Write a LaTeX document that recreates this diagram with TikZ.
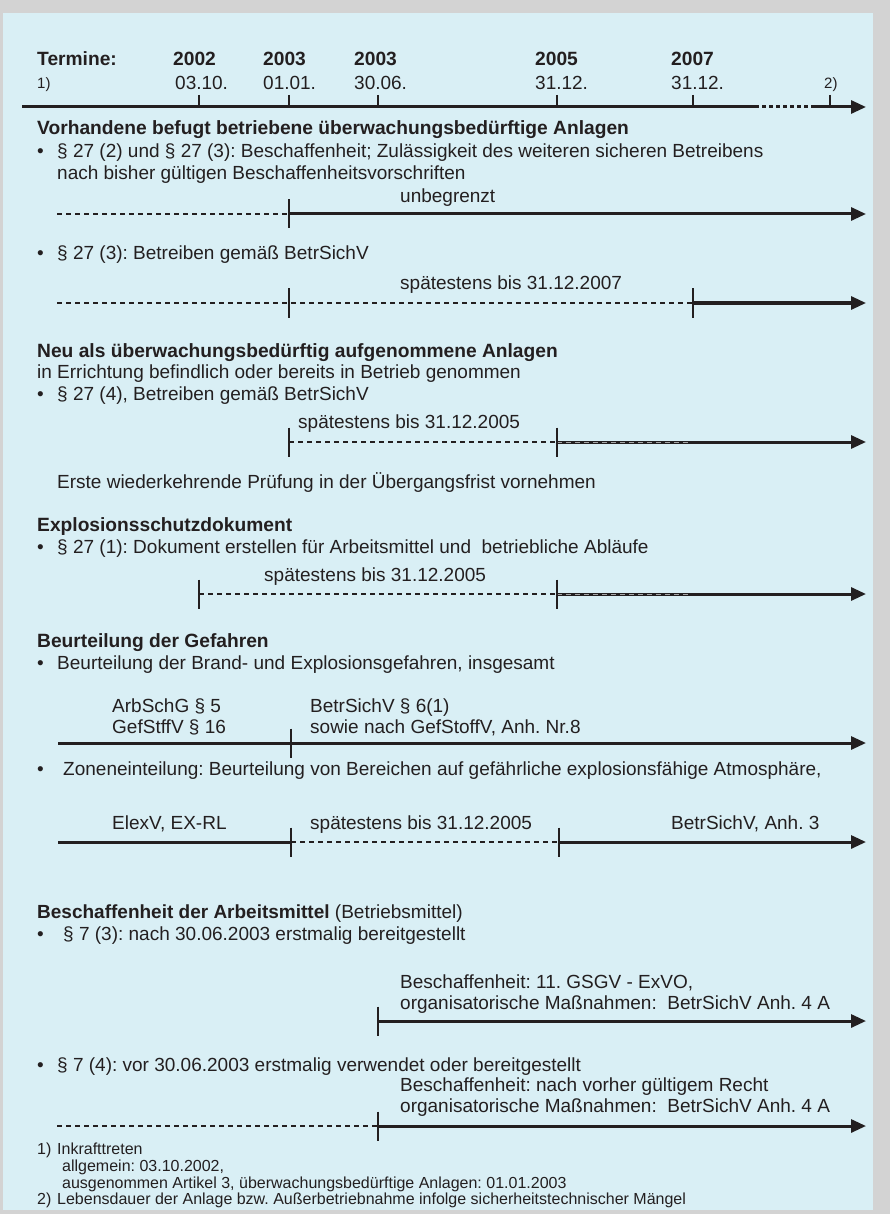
\documentclass[tikz,border=0pt]{standalone}
\usepackage{fontspec}
\setmainfont{Liberation Sans}
\usetikzlibrary{arrows.meta}
\definecolor{panel}{RGB}{217,239,245}
\definecolor{outer}{RGB}{211,211,211}
\definecolor{ink}{RGB}{35,31,32}
\frenchspacing
\begin{document}
\begin{tikzpicture}[x=1pt,y=-1pt,
  txt/.style={anchor=base west, inner sep=0pt, font=\fontsize{19}{22}\selectfont\frenchspacing, text=ink},
  hd/.style={txt, font=\fontsize{19.2}{22}\selectfont\bfseries\frenchspacing},
  small/.style={txt, font=\fontsize{16}{17}\selectfont\frenchspacing},
  solidline/.style={line width=3pt, draw=ink},
  dashline/.style={line width=2.6pt, draw=ink, dash pattern=on 5pt off 4pt},
  tipped/.style={-{Triangle[length=15pt,width=13pt]}},
  tickmark/.style={line width=1.8pt, draw=ink},
  ghost/.style={line width=1pt, draw=gray!70, dash pattern=on 5pt off 4pt},
]
\useasboundingbox (0,0) rectangle (890,1214);
\fill[outer] (0,0) rectangle (890,1214);
\fill[panel] (3,13) rectangle (873,1210);

% ---------- header timeline ----------
\node[hd] (termine) at (37,66) {Termine:};
\node[hd] (y1) at (173,66) {2002};
\node[hd] (y2) at (263,66) {2003};
\node[hd] (y3) at (354,66) {2003};
\node[hd] (y4) at (535,66) {2005};
\node[hd] (y5) at (671,66) {2007};
\node[small, font=\fontsize{15}{17}\selectfont] (fn1) at (37,89) {1)};
\node[txt] (d1) at (175,90) {03.10.};
\node[txt] (d2) at (263,90) {01.01.};
\node[txt] (d3) at (354,90) {30.06.};
\node[txt] (d4) at (535,90) {31.12.};
\node[txt] (d5) at (671,90) {31.12.};
\node[small, font=\fontsize{15}{17}\selectfont] (fn2) at (824,89) {2)};
\coordinate (a0) at (22,107);
\coordinate (a1) at (755,107);
\coordinate (a2) at (812,107);
\coordinate (a3) at (866,107);
\draw[solidline] (a0) -- (a1);
\draw[solidline, dash pattern=on 4pt off 3pt] (a1) -- (a2);
\draw[solidline, tipped] (a2) -- (a3);
\foreach \x in {199,289,378,557,693,830}
  \draw[tickmark] (\x,95) -- (\x,107);

% ---------- section 1 ----------
\node[hd] (h1) at (37,135) {Vorhandene befugt betriebene überwachungsbedürftige Anlagen};
\node[txt] (b1) at (37,158) {•};
\node[txt] (t1) at (57,158) {§ 27 (2) und § 27 (3): Beschaffenheit; Zulässigkeit des weiteren sicheren Betreibens};
\node[txt] (t1b) at (57,180) {nach bisher gültigen Beschaffenheitsvorschriften};
\node[txt] (l1) at (400,203) {unbegrenzt};
\coordinate (p1a) at (57,214);
\coordinate (p1b) at (289,214);
\coordinate (p1c) at (866,214);
\draw[dashline] (p1a) -- (p1b);
\draw[solidline, tipped] (p1b) -- (p1c);
\draw[tickmark] (289,199.5) -- (289,228.5);

\node[txt] (b2) at (37,260) {•};
\node[txt] (t2) at (57,260) {§ 27 (3): Betreiben gemäß BetrSichV};
\node[txt] (l2) at (400,290) {spätestens bis 31.12.2007};
\coordinate (p2a) at (57,303);
\coordinate (p2b) at (693,303);
\coordinate (p2c) at (866,303);
\draw[dashline] (p2a) -- (p2b);
\draw[solidline, tipped] (p2b) -- (p2c);
\draw[tickmark] (289,288.5) -- (289,317.5);
\draw[tickmark] (693,288.5) -- (693,317.5);

% ---------- section 2 ----------
\node[hd] (h2) at (37,357) {Neu als überwachungsbedürftig aufgenommene Anlagen};
\node[txt] (t3a) at (37,378) {in Errichtung befindlich oder bereits in Betrieb genommen};
\node[txt] (b3) at (37,400) {•};
\node[txt] (t3) at (57,400) {§ 27 (4), Betreiben gemäß BetrSichV};
\node[txt] (l3) at (298,428) {spätestens bis 31.12.2005};
\coordinate (p3a) at (289,442);
\coordinate (p3b) at (557,442);
\coordinate (p3c) at (866,442);
\draw[dashline] (p3a) -- (p3b);
\draw[solidline, tipped] (p3b) -- (p3c);
\draw[ghost] (557,442) -- (690,442);
\draw[tickmark] (289,427.5) -- (289,456.5);
\draw[tickmark] (557,427.5) -- (557,456.5);
\node[txt] (t3c) at (57,488) {Erste wiederkehrende Prüfung in der Übergangsfrist vornehmen};

% ---------- section 3 ----------
\node[hd] (h3) at (37,531) {Explosionsschutzdokument};
\node[txt] (b4) at (37,553) {•};
\node[txt] (t4) at (57,553) {§ 27 (1): Dokument erstellen für Arbeitsmittel und\ \ betriebliche Abläufe};
\node[txt] (l4) at (264,581) {spätestens bis 31.12.2005};
\coordinate (p4a) at (199,594);
\coordinate (p4b) at (557,594);
\coordinate (p4c) at (866,594);
\draw[dashline] (p4a) -- (p4b);
\draw[solidline, tipped] (p4b) -- (p4c);
\draw[ghost] (557,594) -- (690,594);
\draw[tickmark] (199,579.5) -- (199,608.5);
\draw[tickmark] (557,579.5) -- (557,608.5);

% ---------- section 4 ----------
\node[hd] (h4) at (37,647) {Beurteilung der Gefahren};
\node[txt] (b5) at (37,669) {•};
\node[txt] (t5) at (57,669) {Beurteilung der Brand- und Explosionsgefahren, insgesamt};
\node[txt] (l5a) at (112,712) {ArbSchG § 5};
\node[txt] (l5b) at (112,733) {GefStffV § 16};
\node[txt] (l5c) at (310,712) {BetrSichV § 6(1)};
\node[txt] (l5d) at (310,733) {sowie nach GefStoffV, Anh. Nr.8};
\coordinate (p5a) at (58,743);
\coordinate (p5c) at (866,743);
\draw[solidline, tipped] (p5a) -- (p5c);
\draw[tickmark] (291,728.5) -- (291,757.5);

\node[txt] (b6) at (37,775) {•};
\node[txt] (t6) at (63,775) {Zoneneinteilung: Beurteilung von Bereichen auf gefährliche explosionsfähige Atmosphäre,};
\node[txt] (l6a) at (112,829) {ElexV, EX-RL};
\node[txt] (l6b) at (310,829) {spätestens bis 31.12.2005};
\node[txt] (l6c) at (671,829) {BetrSichV, Anh. 3};
\coordinate (p6a) at (58,842);
\coordinate (p6b) at (291,842);
\coordinate (p6c) at (559,842);
\coordinate (p6d) at (866,842);
\draw[solidline] (p6a) -- (p6b);
\draw[dashline] (p6b) -- (p6c);
\draw[solidline, tipped] (p6c) -- (p6d);
\draw[tickmark] (291,827.5) -- (291,856.5);
\draw[tickmark] (559,827.5) -- (559,856.5);

% ---------- section 5 ----------
\node[txt] (h5) at (37,918) {\textbf{Beschaffenheit der Arbeitsmittel} (Betriebsmittel)};
\node[txt] (b7) at (37,940) {•};
\node[txt] (t7) at (63,940) {§ 7 (3): nach 30.06.2003 erstmalig bereitgestellt};
\node[txt] (l7a) at (400,988) {Beschaffenheit: 11. GSGV - ExVO,};
\node[txt] (l7b) at (400,1009) {organisatorische Maßnahmen:\ \ BetrSichV Anh. 4 A};
\coordinate (p7a) at (378,1021);
\coordinate (p7c) at (866,1021);
\draw[solidline, tipped] (p7a) -- (p7c);
\draw[tickmark] (378,1006.5) -- (378,1035.5);

\node[txt] (b8) at (37,1071) {•};
\node[txt] (t8) at (57,1071) {§ 7 (4): vor 30.06.2003 erstmalig verwendet oder bereitgestellt};
\node[txt] (l8a) at (400,1091) {Beschaffenheit: nach vorher gültigem Recht};
\node[txt] (l8b) at (400,1112) {organisatorische Maßnahmen:\ \ BetrSichV Anh. 4 A};
\coordinate (p8a) at (57,1126);
\coordinate (p8b) at (378,1126);
\coordinate (p8c) at (866,1126);
\draw[dashline] (p8a) -- (p8b);
\draw[solidline, tipped] (p8b) -- (p8c);
\draw[tickmark] (378,1111.5) -- (378,1140.5);

% ---------- footnotes ----------
\node[small] (f1) at (37,1154) {1)};
\node[small] (f1t) at (57,1154) {Inkrafttreten};
\node[small] (f1a) at (62,1171) {allgemein: 03.10.2002,};
\node[small] (f1b) at (62,1188) {ausgenommen Artikel 3, überwachungsbedürftige Anlagen: 01.01.2003};
\node[small] (f2) at (37,1204) {2)};
\node[small] (f2t) at (57,1204) {Lebensdauer der Anlage bzw. Außerbetriebnahme infolge sicherheitstechnischer Mängel};
\end{tikzpicture}
\end{document}
